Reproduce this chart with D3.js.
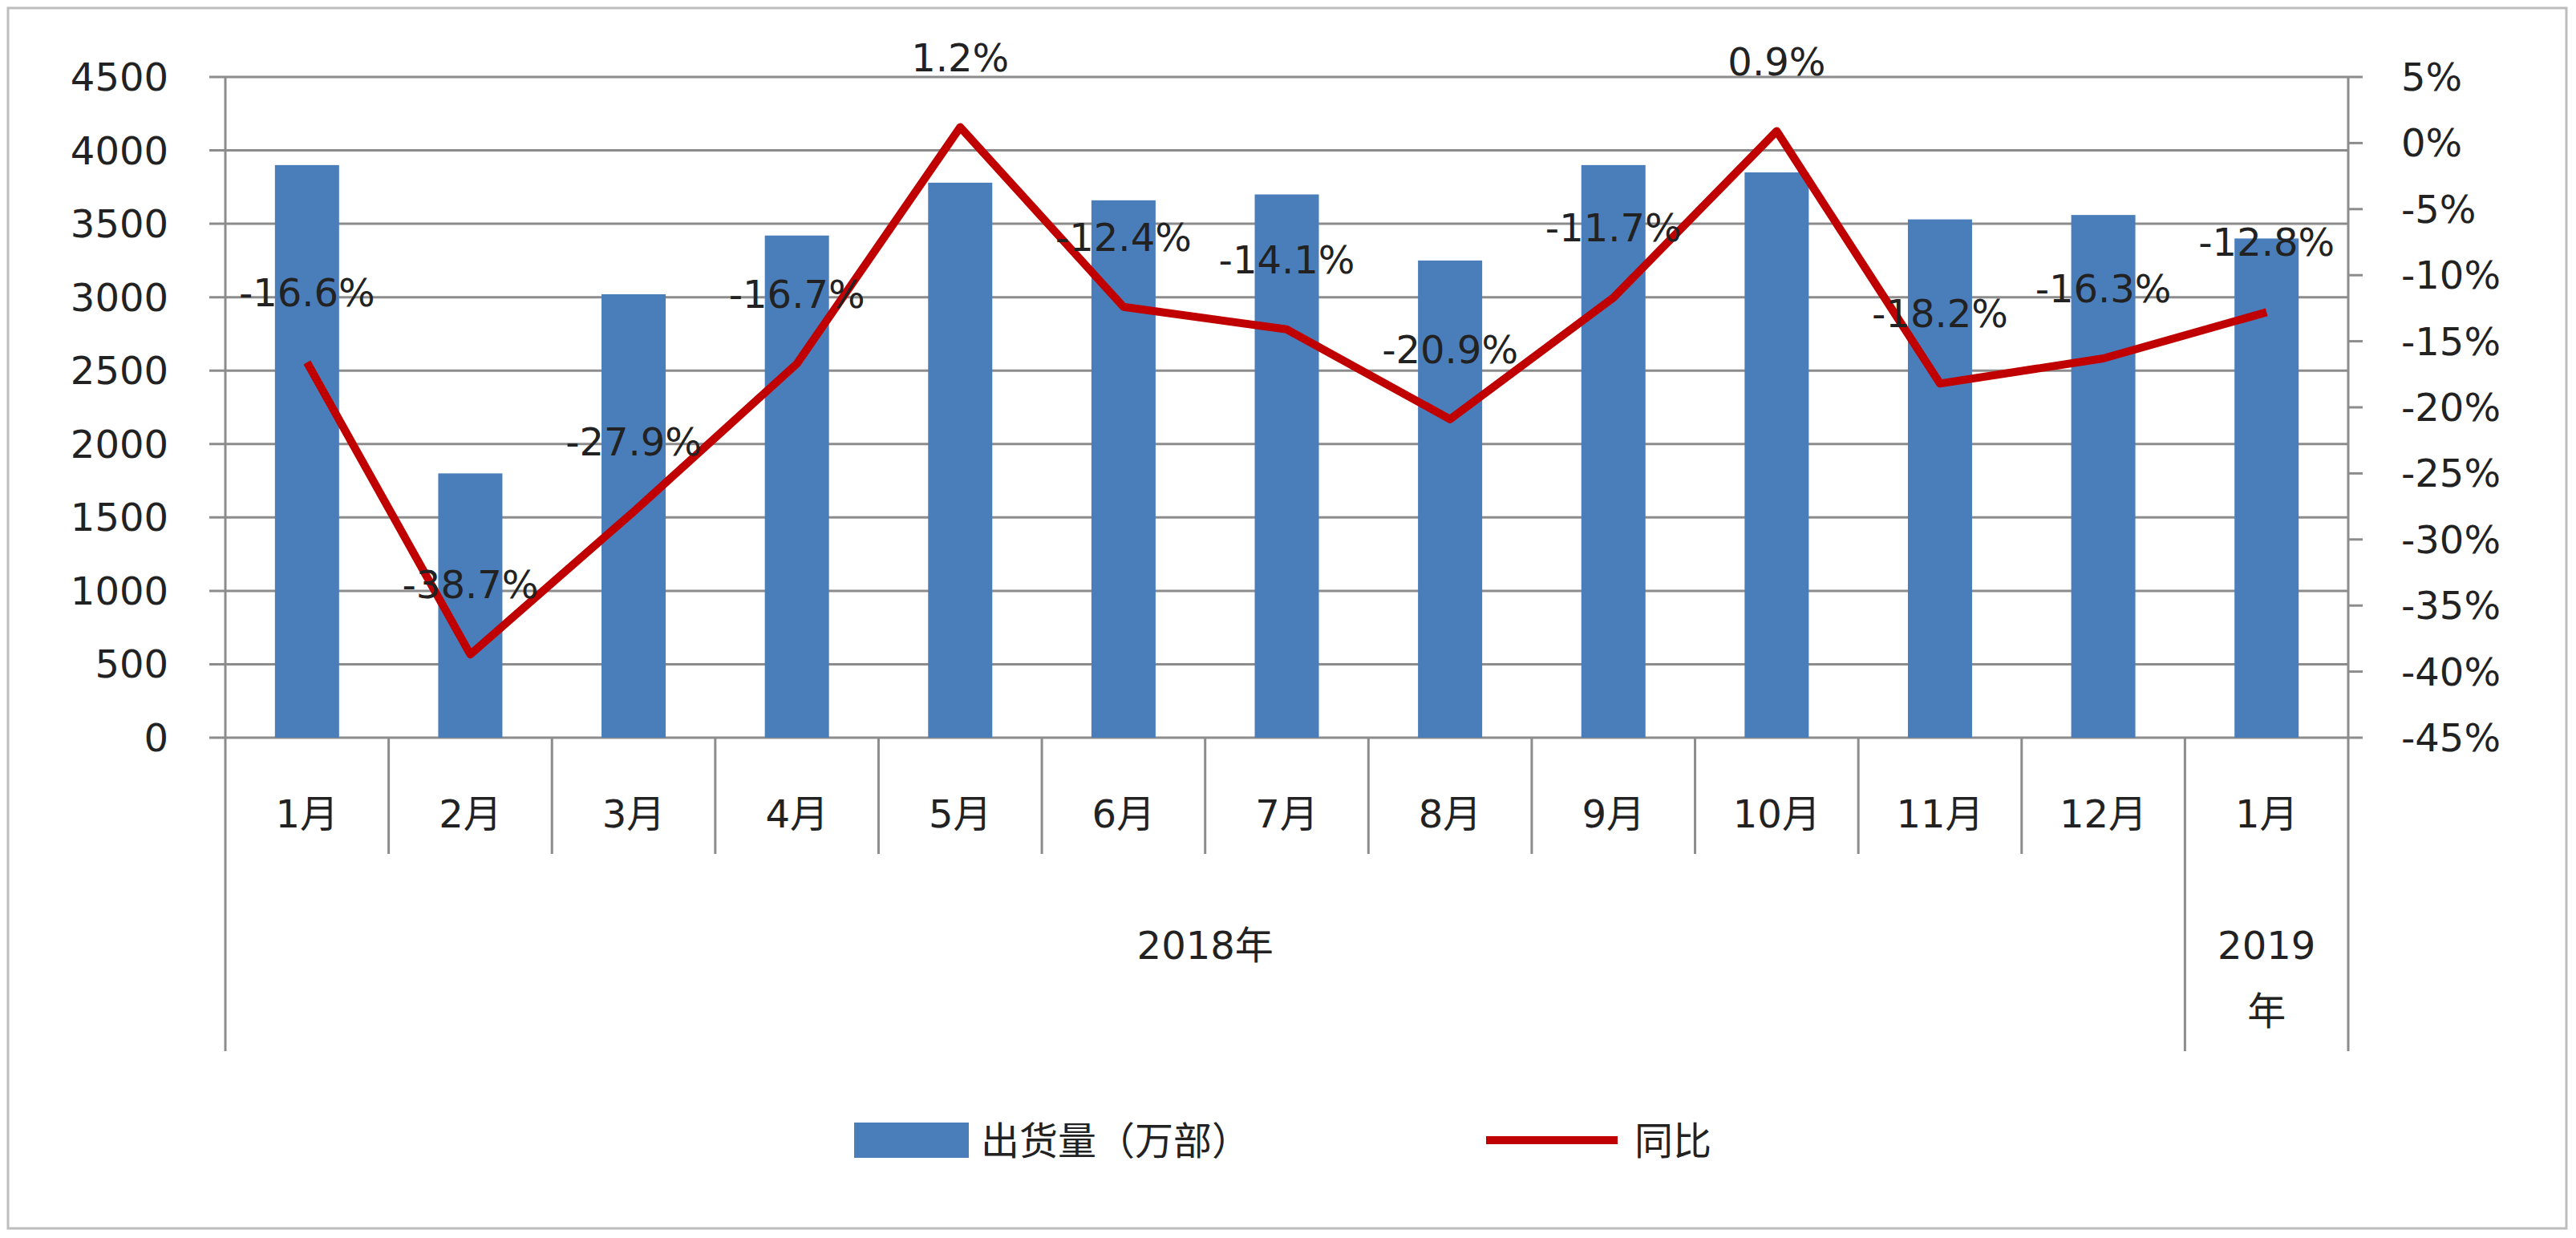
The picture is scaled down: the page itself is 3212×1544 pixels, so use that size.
<!DOCTYPE html>
<html><head><meta charset="utf-8">
<script src="https://cdn.jsdelivr.net/npm/d3@7"></script>
<style>body{margin:0;background:#fff}</style></head>
<body><svg id="c" width="3212" height="1544"></svg>
<script>
const months = ["1月","2月","3月","4月","5月","6月","7月","8月","9月","10月","11月","12月","1月"];
const shipments = [3900,1800,3020,3420,3780,3660,3700,3250,3900,3850,3530,3560,3400];
const yoy = [-16.6,-38.7,-27.9,-16.7,1.2,-12.4,-14.1,-20.9,-11.7,0.9,-18.2,-16.3,-12.8];
const leftTicks = [0,500,1000,1500,2000,2500,3000,3500,4000,4500];
const rightTicks = [5,0,-5,-10,-15,-20,-25,-30,-35,-40,-45];
const barName = "出货量（万部）", lineName = "同比";

const svg = d3.select("#c");
const font = "'DejaVu Sans','Noto Sans CJK SC',sans-serif";
const fs = 48, col = "#222";
const L = 281, R = 2928, T = 96, B = 920;
svg.append("rect").attr("x",10).attr("y",10).attr("width",3190).attr("height",1522)
  .attr("fill","#fff").attr("stroke","#bdbdbd").attr("stroke-width",3);

const x = d3.scaleBand().domain(d3.range(months.length)).range([L,R]);
const yL = d3.scaleLinear().domain([0,4500]).range([B,T]);
const yR = d3.scaleLinear().domain([-45,5]).range([B,T]);
const txt = (g)=>g.attr("font-family",font).attr("font-size",fs).attr("fill",col);

svg.append("g").selectAll("line").data(leftTicks).join("line")
  .attr("x1",L-20).attr("x2",R).attr("y1",d=>yL(d)).attr("y2",d=>yL(d))
  .attr("stroke","#8c8c8c").attr("stroke-width",3);
svg.append("g").call(txt).selectAll("text").data(leftTicks).join("text")
  .attr("x",210).attr("y",d=>yL(d)+17).attr("text-anchor","end").text(d=>d);
svg.append("line").attr("x1",R).attr("x2",R).attr("y1",T).attr("y2",B).attr("stroke","#8c8c8c").attr("stroke-width",3);
svg.append("g").selectAll("line").data(rightTicks).join("line")
  .attr("x1",R).attr("x2",R+18).attr("y1",d=>yR(d)).attr("y2",d=>yR(d)).attr("stroke","#8c8c8c").attr("stroke-width",3);
svg.append("g").call(txt).selectAll("text").data(rightTicks).join("text")
  .attr("x",2994).attr("y",d=>yR(d)+17).text(d=>d+"%");
svg.append("line").attr("x1",L).attr("x2",L).attr("y1",T).attr("y2",1311).attr("stroke","#8c8c8c").attr("stroke-width",3);
svg.append("line").attr("x1",R).attr("x2",R).attr("y1",B).attr("y2",1311).attr("stroke","#8c8c8c").attr("stroke-width",3);
svg.append("line").attr("x1",x(12)).attr("x2",x(12)).attr("y1",B).attr("y2",1311).attr("stroke","#8c8c8c").attr("stroke-width",3);
svg.append("g").selectAll("line").data(d3.range(1,12)).join("line")
  .attr("x1",d=>x(d)).attr("x2",d=>x(d)).attr("y1",B).attr("y2",1065).attr("stroke","#8c8c8c").attr("stroke-width",3);

const bw = 80;
svg.append("g").selectAll("rect").data(shipments).join("rect")
  .attr("x",(d,i)=>x(i)+x.bandwidth()/2-bw/2).attr("width",bw)
  .attr("y",d=>yL(d)).attr("height",d=>B-yL(d)).attr("fill","#4a7ebb");
const line = d3.line().x((d,i)=>x(i)+x.bandwidth()/2).y(d=>yR(d));
svg.append("path").datum(yoy).attr("d",line).attr("fill","none")
  .attr("stroke","#c00000").attr("stroke-width",10).attr("stroke-linejoin","round");
svg.append("g").call(txt).selectAll("text").data(yoy).join("text")
  .attr("x",(d,i)=>x(i)+x.bandwidth()/2).attr("y",d=>yR(d)-70).attr("text-anchor","middle")
  .text(d=>d.toFixed(1)+"%");
svg.append("g").call(txt).selectAll("text").data(months).join("text")
  .attr("x",(d,i)=>x(i)+x.bandwidth()/2).attr("y",1032).attr("text-anchor","middle").text(d=>d);
svg.append("text").call(txt).attr("x",(L+x(12))/2).attr("y",1196).attr("text-anchor","middle").text("2018年");
svg.append("text").call(txt).attr("x",x(12)+x.bandwidth()/2).attr("y",1196).attr("text-anchor","middle").text("2019");
svg.append("text").call(txt).attr("x",x(12)+x.bandwidth()/2).attr("y",1278).attr("text-anchor","middle").text("年");
svg.append("rect").attr("x",1065).attr("y",1400).attr("width",143).attr("height",44).attr("fill","#4a7ebb");
svg.append("text").call(txt).attr("x",1223).attr("y",1440).text(barName);
svg.append("line").attr("x1",1853).attr("x2",2017).attr("y1",1422).attr("y2",1422).attr("stroke","#c00000").attr("stroke-width",10);
svg.append("text").call(txt).attr("x",2038).attr("y",1440).text(lineName);
</script></body></html>
